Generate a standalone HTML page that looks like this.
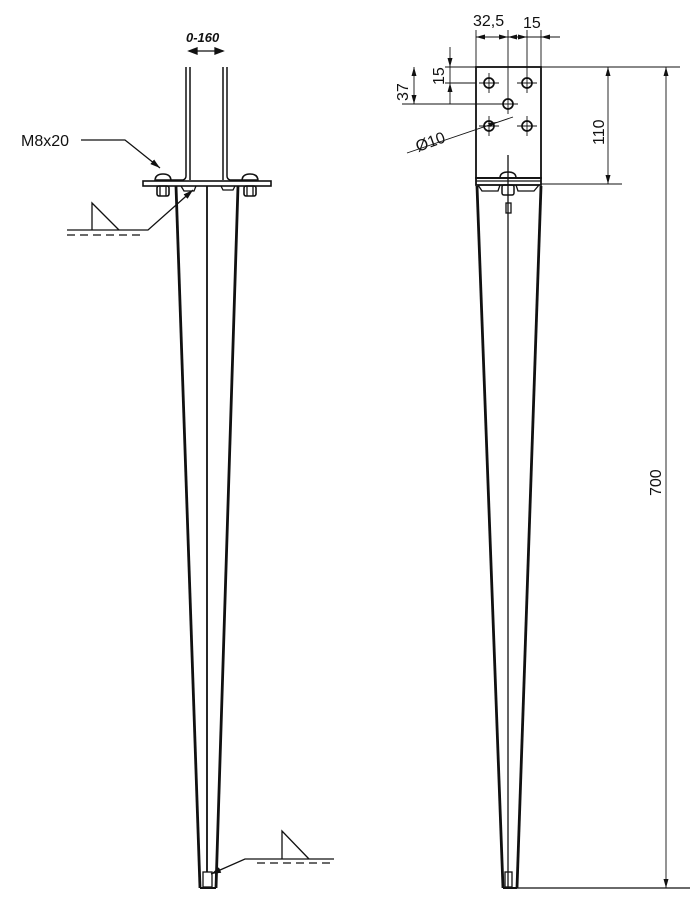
<!DOCTYPE html>
<html><head><meta charset="utf-8"><style>
html,body{margin:0;padding:0;background:#fff;}
svg{display:block;}
text{font-family:"Liberation Sans",sans-serif;fill:#111;}
</style></head><body>
<svg width="692" height="920" viewBox="0 0 692 920" xmlns="http://www.w3.org/2000/svg">
<defs>
<marker id="a" markerWidth="10" markerHeight="6" refX="10" refY="3" orient="auto" markerUnits="userSpaceOnUse"><path d="M0,0 L10,3 L0,6 z" fill="#111"/></marker>
</defs>
<g stroke="#111" fill="none" stroke-width="1.3">
<!-- LEFT VIEW -->
<path d="M186,67 V176 Q186,179 183,180 H156" stroke-width="1.5"/>
<path d="M190,67 V180" stroke-width="1.5"/>
<path d="M223,67 V180" stroke-width="1.5"/>
<path d="M227,67 V176 Q227,179 230,180 H257" stroke-width="1.5"/>
<rect x="143" y="181" width="128" height="5" fill="#fff" stroke-width="1.6"/>
<path d="M155,181 Q155,174 163,174 Q171,174 171,181" stroke-width="1.6"/>
<path d="M242,181 Q242,174 250,174 Q258,174 258,181" stroke-width="1.6"/>
<rect x="157" y="186" width="12" height="10" rx="2" stroke-width="1.6"/>
<rect x="244" y="186" width="12" height="10" rx="2" stroke-width="1.6"/>
<line x1="160" y1="186" x2="160" y2="196"/><line x1="166" y1="186" x2="166" y2="196"/>
<line x1="247" y1="186" x2="247" y2="196"/><line x1="253" y1="186" x2="253" y2="196"/>
<path d="M181,186 L184,191 H194 L196,186"/>
<path d="M221,186 L223,190 H233 L235,186"/>
<path d="M176,186 L200,888" stroke-width="2.8"/>
<path d="M238,186 L216,888" stroke-width="2.8"/>
<line x1="207" y1="186" x2="207" y2="872" stroke-width="1.8"/>
<line x1="200" y1="888" x2="216" y2="888" stroke-width="2"/>
<rect x="203" y="872" width="9" height="15"/>
<line x1="189" y1="51" x2="223" y2="51"/>
<path d="M189,51 l8,-3 v6z M223,51 l-8,-3 v6z" fill="#111"/>
<path d="M81,140 H125 L160,168" marker-end="url(#a)"/>
<path d="M92,230 V203 L119,230"/>
<path d="M67,230 H148 L193,190" marker-end="url(#a)"/>
<line x1="67" y1="235" x2="143" y2="235" stroke-dasharray="8,5"/>
<path d="M334,859 H245 L211,874" marker-end="url(#a)"/>
<path d="M282,859 V831 L309,859"/>
<line x1="257" y1="863" x2="334" y2="863" stroke-dasharray="8,5"/>

<!-- RIGHT VIEW -->
<rect x="476" y="67" width="65" height="111" stroke-width="1.8"/>
<rect x="476" y="178" width="65" height="7" stroke-width="1.8"/>
<line x1="476" y1="181" x2="541" y2="181"/>
<path d="M500,178 Q500,172 508,172 Q516,172 516,178" stroke-width="1.5"/>
<rect x="502" y="185" width="12" height="10" rx="2" stroke-width="1.5"/>
<path d="M478,185 L482,191 H498 L500,185"/><path d="M516,185 L518,191 H534 L539,185"/>
<rect x="506" y="203" width="5" height="10"/>
<line x1="508" y1="155" x2="508" y2="888"/>
<path d="M477,186 L503,888" stroke-width="2.8"/>
<path d="M541,186 L517,888" stroke-width="2.8"/>
<line x1="503" y1="888" x2="517" y2="888" stroke-width="2"/>
<rect x="505" y="872" width="7" height="15"/>
<circle cx="489" cy="83" r="5" stroke-width="1.7"/>
<circle cx="527" cy="83" r="5" stroke-width="1.7"/>
<circle cx="508" cy="104" r="5" stroke-width="1.7"/>
<circle cx="489" cy="126" r="5" stroke-width="1.7"/>
<circle cx="527" cy="126" r="5" stroke-width="1.7"/>
<g stroke-width="0.9">
<path d="M479,83 H499 M517,83 H537 M489,73 V93 M527,73 V93"/>
<path d="M479,126 H499 M517,126 H537 M489,116 V136 M527,116 V136"/>
<path d="M498,104 H518 M508,94 V114"/>
</g>
<line x1="476" y1="30" x2="476" y2="67" stroke-width="0.9"/>
<line x1="508" y1="30" x2="508" y2="94" stroke-width="0.9"/>
<line x1="527" y1="30" x2="527" y2="73" stroke-width="0.9"/>
<line x1="541" y1="30" x2="541" y2="67" stroke-width="0.9"/>
<line x1="476" y1="37" x2="560" y2="37" stroke-width="0.9"/>
<path d="M476,37 l9,-2.5 v5z M508,37 l-9,-2.5 v5z M508,37 l9,-2.5 v5z M527,37 l-9,-2.5 v5z M541,37 l9,-2.5 v5z" fill="#111" stroke="none"/>
<line x1="445" y1="67" x2="680" y2="67" stroke-width="0.9"/>
<line x1="445" y1="83" x2="476" y2="83" stroke-width="0.9"/>
<line x1="402" y1="104" x2="498" y2="104" stroke-width="0.9"/>
<line x1="450" y1="47" x2="450" y2="104" stroke-width="0.9"/>
<line x1="414" y1="67" x2="414" y2="104" stroke-width="0.9"/>
<path d="M450,67 l-2.5,-9 h5z M450,83 l-2.5,9 h5z M414,67 l-2.5,9 h5z M414,104 l-2.5,-9 h5z" fill="#111" stroke="none"/>
<path d="M407,153 L513,117" stroke-width="0.9"/>
<path d="M497,122 l-9,1 l2,4z" fill="#111" stroke="none"/>
<line x1="541" y1="184" x2="622" y2="184" stroke-width="0.9"/>
<line x1="608" y1="67" x2="608" y2="184" stroke-width="0.9"/>
<path d="M608,67 l-2.5,9 h5z M608,184 l-2.5,-9 h5z" fill="#111" stroke="none"/>
<line x1="515" y1="888" x2="690" y2="888" stroke-width="1.3"/>
<line x1="666" y1="67" x2="666" y2="888" stroke-width="0.9"/>
<path d="M666,67 l-2.5,9 h5z M666,888 l-2.5,-9 h5z" fill="#111" stroke="none"/>
</g>
<text x="186" y="42" font-size="13" font-weight="bold" font-style="italic">0-160</text>
<text x="21" y="146" font-size="16">M8x20</text>
<text x="473" y="26" font-size="16">32,5</text>
<text x="523" y="28" font-size="16">15</text>
<text transform="translate(444,85) rotate(-90)" font-size="16">15</text>
<text transform="translate(408,101) rotate(-90)" font-size="16">37</text>
<text transform="translate(418,152) rotate(-20)" font-size="16">Ø10</text>
<text transform="translate(604,145) rotate(-90)" font-size="16">110</text>
<text transform="translate(661,496) rotate(-90)" font-size="16">700</text>
</svg>
</body></html>
